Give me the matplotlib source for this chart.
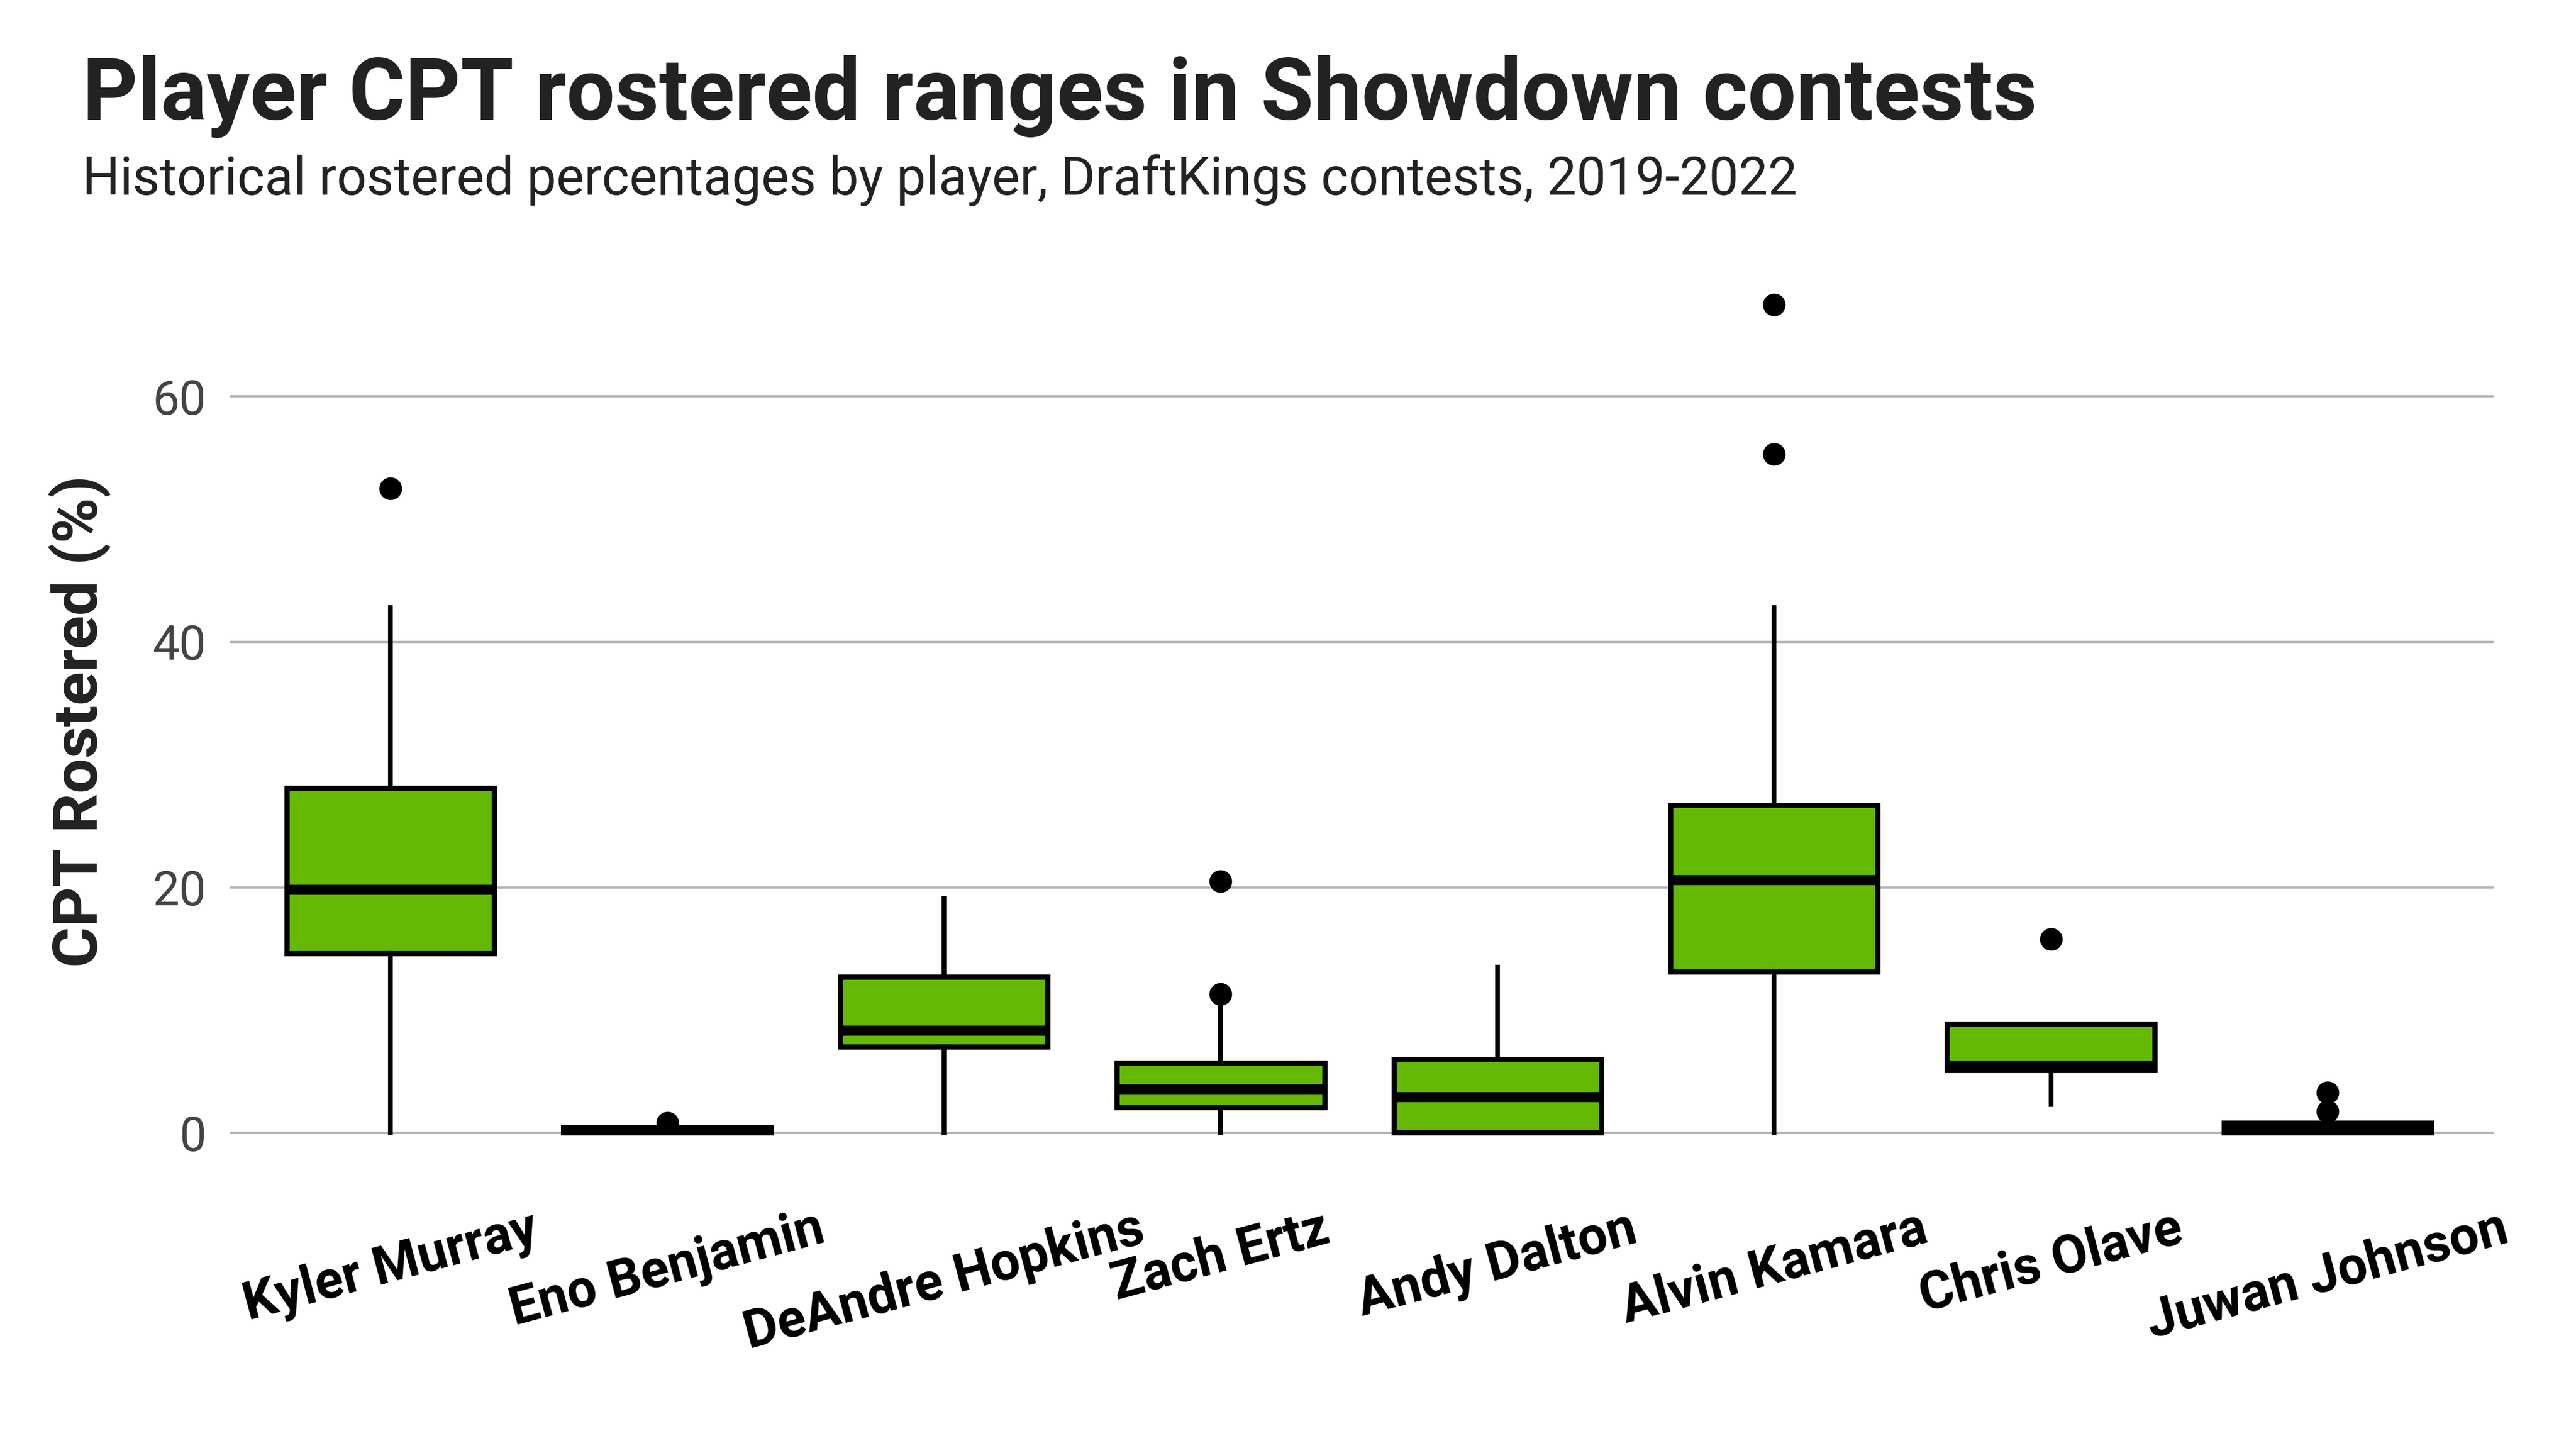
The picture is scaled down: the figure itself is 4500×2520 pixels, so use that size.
import matplotlib.pyplot as plt

plt.rcParams['font.family'] = ['Roboto', 'DejaVu Sans']

# box statistics (CPT rostered %)
players = ["Kyler Murray", "Eno Benjamin", "DeAndre Hopkins", "Zach Ertz",
           "Andy Dalton", "Alvin Kamara", "Chris Olave", "Juwan Johnson"]
q1 = [14.6, 0.0, 7.0, 2.05, 0.0, 13.15, 5.1, 0.0]
medians = [19.8, 0.2, 8.3, 3.55, 2.9, 20.6, 5.5, 0.3]
q3 = [28.1, 0.45, 12.7, 5.7, 6.0, 26.7, 8.9, 0.8]
whis_lo = [0.0, 0.0, 0.0, 0.0, 0.0, 0.0, 2.3, 0.0]
whis_hi = [42.8, 0.45, 19.1, 10.8, 13.5, 42.8, 8.9, 0.8]
outliers = [[52.5], [0.8], [], [11.3, 20.5], [], [55.3, 67.5], [15.8], [1.75, 3.3]]

box_color = "#65b905"

fig = plt.figure(figsize=(15, 8.4), dpi=300)
ax = fig.add_axes([0.0893, 0.186, 0.8787, 0.632])

stats = []
for i, name in enumerate(players):
    stats.append({
        "label": name,
        "q1": q1[i],
        "med": medians[i],
        "q3": q3[i],
        "whislo": whis_lo[i],
        "whishi": whis_hi[i],
        "fliers": outliers[i],
    })

ax.bxp(stats, positions=range(1, len(players) + 1), widths=0.75,
       patch_artist=True, showcaps=False,
       boxprops=dict(facecolor=box_color, edgecolor="black", linewidth=2.2),
       medianprops=dict(color="black", linewidth=4.2, solid_capstyle="butt"),
       whiskerprops=dict(color="black", linewidth=2.0),
       flierprops=dict(marker="o", markerfacecolor="black", markeredgecolor="black",
                       markersize=8.5))

ax.set_xlim(0.42, 8.6)
ax.set_ylim(-3.4, 70.9)
ax.set_yticks([0, 20, 40, 60])
ax.yaxis.grid(True, color="#b3b3b3", linewidth=0.9)
ax.set_axisbelow(True)
for s in ax.spines.values():
    s.set_visible(False)
ax.tick_params(axis="both", length=0)
ax.tick_params(axis="y", labelsize=20, labelcolor="#444444", pad=10)
ax.set_xticks(range(1, len(players) + 1))
ax.set_xticklabels(players, rotation=15, ha="center", fontsize=22,
                   fontweight="bold", color="black")
ax.tick_params(axis="x", pad=12)

fig.text(0.031, 0.5, "CPT Rostered (%)", rotation=90, ha="center", va="center",
         fontsize=26, fontweight="bold", color="#222222")

fig.text(0.032, 0.917, "Player CPT rostered ranges in Showdown contests",
         fontsize=36, fontweight="bold", color="#222222", va="baseline")
fig.text(0.032, 0.865, "Historical rostered percentages by player, DraftKings contests, 2019-2022",
         fontsize=22, color="#222222", va="baseline")

fig.savefig("out.png", dpi=300, facecolor="white")
